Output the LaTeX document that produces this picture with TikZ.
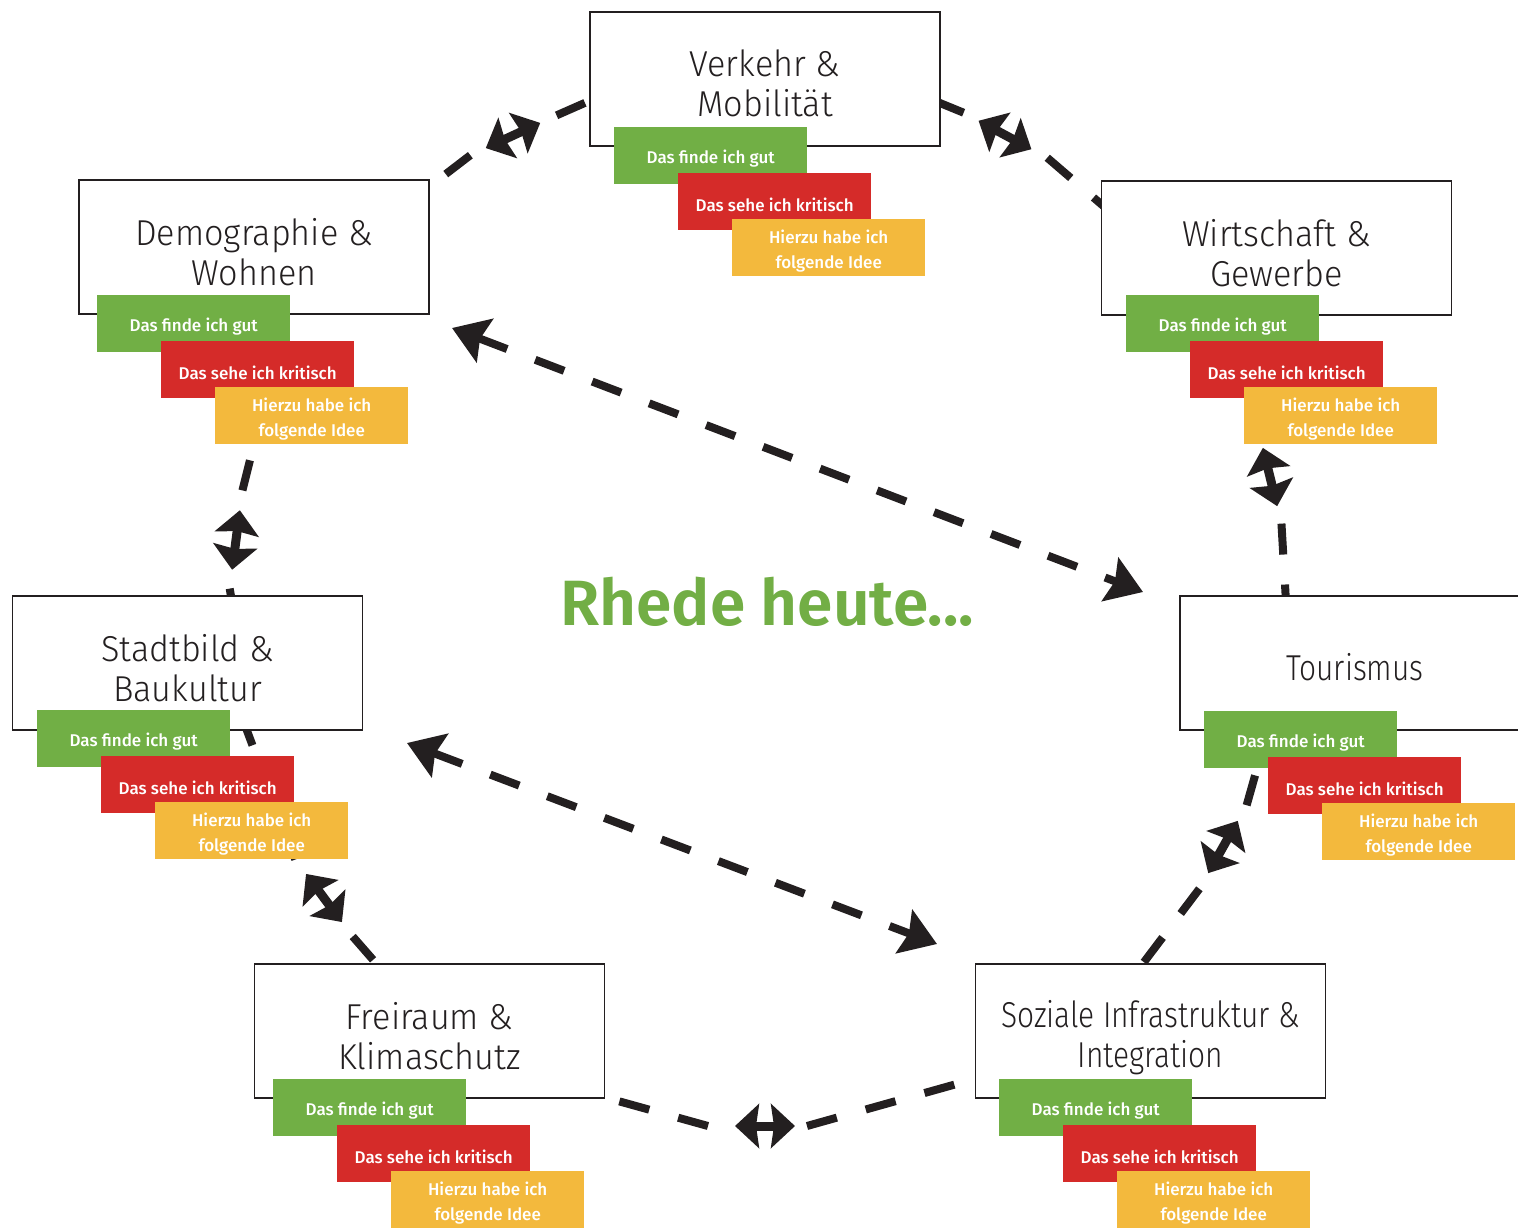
\documentclass[tikz,border=0pt]{standalone}
\usepackage{fontspec}
\setmainfont{Fira Sans}
\newfontfamily\lightf[FakeStretch=0.95]{Fira Sans Light}
\newfontfamily\condf[FakeStretch=0.83]{Fira Sans Light}
\newfontfamily\medf{Fira Sans Medium}
\newfontfamily\boldf{Fira Sans SemiBold}
\usetikzlibrary{arrows.meta,calc}
\definecolor{lgreen}{HTML}{71AF45}
\definecolor{lred}{HTML}{D52B29}
\definecolor{lyellow}{HTML}{F3B93D}
\definecolor{tgreen}{HTML}{72AE45}
\definecolor{ink}{HTML}{231F20}
\tikzset{
  topic/.style={draw=ink, line width=1.8pt, fill=white, minimum width=350pt,
    minimum height=134pt, inner sep=0pt},
  topictext/.style={inner sep=0pt, align=center, text=ink,
    font=\lightf\fontsize{36}{40}\selectfont},
  condtext/.style={topictext, font=\condf\fontsize{36}{40}\selectfont},
  tag/.style={minimum width=193pt, minimum height=57pt, inner sep=0pt},
  tagtext/.style={inner sep=0pt, align=center, text=white,
    font=\medf\fontsize{17}{25}\selectfont},
  conn/.style={draw=ink, line width=8pt, dash pattern=on 31pt off 30pt},
  twoway/.style={draw=ink, line width=9pt,
    {Stealth[length=24pt,width=44pt,inset=3pt]}-{Stealth[length=24pt,width=44pt,inset=3pt]}},
  longway/.style={conn,
    {Stealth[length=35pt,width=46pt,inset=5pt]}-{Stealth[length=35pt,width=46pt,inset=5pt]}},
}
% name, centre, angle, end on angle side, end on other side, gap on angle side, gap on other side
\newcommand\twowaylink[7]{%
  \coordinate (#1) at #2;
  \draw[twoway] ($(#1)+(#3+180:30)$) -- ($(#1)+(#3:30)$);
  \draw[conn] ($(#1)+(#3:#6)$) -- (#4);
  \draw[conn] ($(#1)+(#3+180:#7)$) -- (#5);
}
% name, x, y of the top-left corner of the green tag
\newcommand\tagset[3]{%
  \node[tag, fill=lgreen, anchor=north west] (#1g) at (#2,#3) {};
  \node[tagtext] (#1gt) at ($(#1g.center)+(0,3)$) {Das finde ich gut};
  \node[tag, fill=lred, anchor=north west] (#1r) at ($(#1g.north west)+(64,46)$) {};
  \node[tagtext] (#1rt) at ($(#1r.center)+(0,3)$) {Das sehe ich kritisch};
  \node[tag, fill=lyellow, anchor=north west] (#1y) at ($(#1g.north west)+(118,92)$) {};
  \node[tagtext] (#1yt) at ($(#1y.center)+(0,3)$) {Hierzu habe ich\\folgende Idee};
}
\begin{document}
\begin{tikzpicture}[x=1pt, y=-1pt]
\useasboundingbox (0,0) rectangle (1518,1228);

% connector end points (hidden under the boxes and tags)
\coordinate (vdV) at (596,98);
\coordinate (vdD) at (425,190);
\coordinate (vwV) at (935,101);
\coordinate (vwW) at (1108,210);
\coordinate (dsD) at (255,440);
\coordinate (dsS) at (232,602);
\coordinate (wtW) at (1255,420);
\coordinate (wtT) at (1286,602);
\coordinate (sfS) at (243,720);
\coordinate (sfF) at (382,970);
\coordinate (fzF) at (600,1096);
\coordinate (fzZ) at (978,1078);
\coordinate (tzT) at (1260,758);
\coordinate (tzZ) at (1138,970);
\coordinate (dtD) at (452,328);
\coordinate (dtT) at (1143,592);
\coordinate (szS) at (407,743);
\coordinate (szZ) at (937,944);

% connectors
\twowaylink{mVD}{(513,135.5)}{-24.8}{vdV}{vdD}{48}{47}
\twowaylink{mVW}{(1005,135)}{28.3}{vwW}{vwV}{48}{47}
\twowaylink{mDS}{(236,540)}{97.4}{dsS}{dsD}{49}{50}
\twowaylink{mWT}{(1270,477)}{76.2}{wtT}{wtW}{48}{48}
\twowaylink{mSF}{(324,898)}{53.3}{sfF}{sfS}{48}{48}
\twowaylink{mFZ}{(765,1126)}{0}{fzZ}{fzF}{42}{57}
\twowaylink{mTZ}{(1223,847)}{119.5}{tzZ}{tzT}{48}{48}
\draw[longway] (dtD) -- (dtT);
\draw[longway] (szS) -- (szZ);

% topic boxes
\node[topic] (verkehr) at (765,79) {};
\node[topictext] (verkehrt) at ($(verkehr.center)+(0,4)$) {Verkehr \&\\Mobilität};
\node[topic] (demo) at (254,247) {};
\node[topictext] (demot) at ($(demo.center)+(0,5)$) {Demographie \&\\Wohnen};
\node[topic] (wirt) at (1276.5,248) {};
\node[topictext] (wirtt) at ($(wirt.center)+(0,5)$) {Wirtschaft \&\\Gewerbe};
\node[topic] (stadt) at (187.5,663) {};
\node[topictext] (stadtt) at ($(stadt.center)+(0,5)$) {Stadtbild \&\\Baukultur};
\node[topic] (tour) at (1355,663) {};
\node[condtext] (tourt) at ($(tour.center)+(0,4)$) {Tourismus};
\node[topic] (frei) at (429.5,1031) {};
\node[topictext] (freit) at ($(frei.center)+(0,5)$) {Freiraum \&\\Klimaschutz};
\node[topic] (sozial) at (1150.5,1031) {};
\node[condtext] (sozialt) at ($(sozial.center)+(0,7)$) {Soziale Infrastruktur \&\\Integration};

% tags
\tagset{verkehr}{614}{127}
\tagset{demo}{97}{295}
\tagset{wirt}{1126}{295}
\tagset{stadt}{37}{710}
\tagset{tour}{1204}{711}
\tagset{frei}{273}{1079}
\tagset{sozial}{999}{1079}

% title
\node[anchor=base, text=tgreen, font=\boldf\fontsize{64}{70}\selectfont] (title) at (767,625) {Rhede heute...};
\end{tikzpicture}
\end{document}
